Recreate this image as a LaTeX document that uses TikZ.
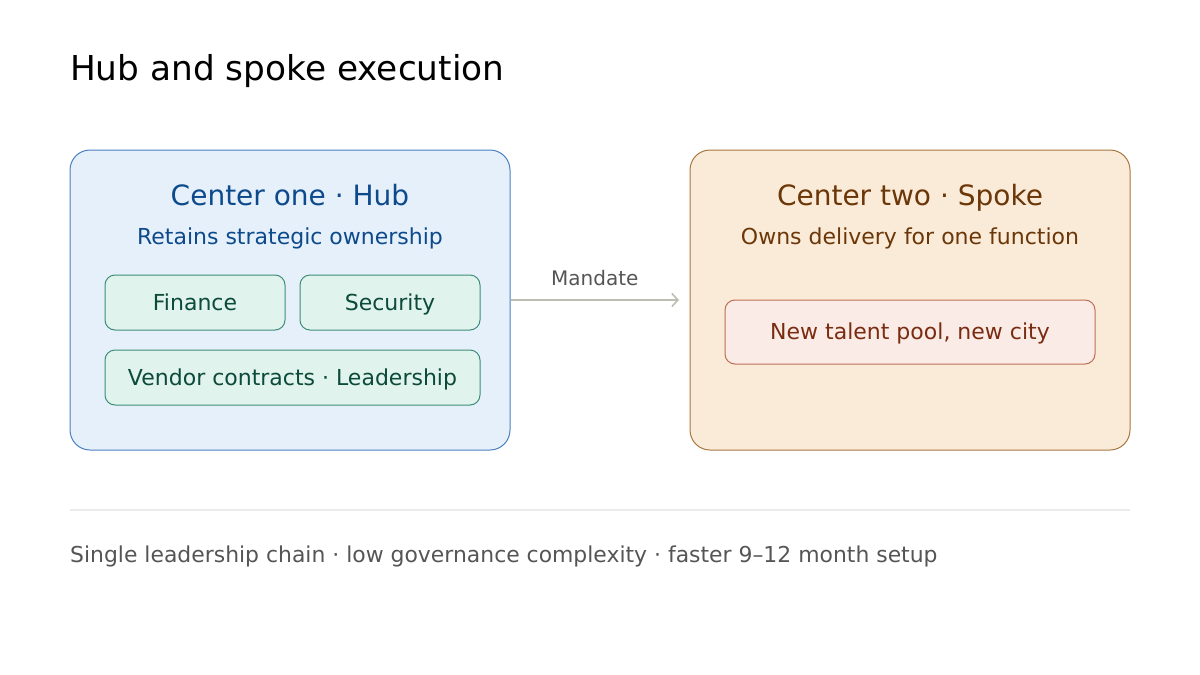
\documentclass[tikz,border=0pt]{standalone}
\usepackage{fontspec}
\setmainfont{DejaVu Sans}
\usetikzlibrary{arrows.meta}

\definecolor{hubfill}{HTML}{E6F0FA}
\definecolor{hubline}{HTML}{4A80C0}
\definecolor{hubtext}{HTML}{0D4A8C}
\definecolor{teamfill}{HTML}{E0F3EC}
\definecolor{teamline}{HTML}{3E8E78}
\definecolor{teamtext}{HTML}{0C4A3A}
\definecolor{spokefill}{HTML}{FAEBD8}
\definecolor{spokeline}{HTML}{A8763F}
\definecolor{spoketext}{HTML}{6B3608}
\definecolor{cityfill}{HTML}{FAEBE6}
\definecolor{cityline}{HTML}{BE6E55}
\definecolor{citytext}{HTML}{7A2C10}
\definecolor{flowgray}{HTML}{BDBFB2}
\definecolor{notegray}{HTML}{555555}
\definecolor{rulegray}{HTML}{EBEBEB}

\tikzset{
  centerbox/.style={draw, line width=1pt, rounded corners=20pt, inner sep=0pt,
    minimum width=440pt, minimum height=300pt},
  unitbox/.style={draw, line width=1pt, rounded corners=10pt, inner sep=0pt,
    text height=15pt, text depth=0pt, font=\fontsize{22}{26}\selectfont},
  headline/.style={anchor=base, font=\fontsize{28}{34}\selectfont},
  subline/.style={anchor=base, font=\fontsize{22}{26}\selectfont},
}

\begin{document}
\begin{tikzpicture}[x=1pt,y=-1pt]
  \useasboundingbox (0,0) rectangle (1200,675);

  \node[anchor=base west, inner sep=0pt, font=\fontsize{34.3}{40}\selectfont] (title) at (70,80) {Hub and spoke execution};

  % hub
  \node[centerbox, draw=hubline, fill=hubfill] (hub) at (290,300) {};
  \node[headline, text=hubtext] (hubname) at (290,205) {Center one · Hub};
  \node[subline, text=hubtext] (hubrole) at (290,244) {Retains strategic ownership};
  \node[unitbox, draw=teamline, fill=teamfill, text=teamtext, minimum width=180pt, minimum height=55pt] (finance) at (195,302.5) {Finance};
  \node[unitbox, draw=teamline, fill=teamfill, text=teamtext, minimum width=180pt, minimum height=55pt] (security) at (390,302.5) {Security};
  \node[unitbox, draw=teamline, fill=teamfill, text=teamtext, minimum width=375pt, minimum height=55pt] (vendor) at (292.5,377.5) {Vendor contracts · Leadership};

  % spoke
  \node[centerbox, draw=spokeline, fill=spokefill] (spoke) at (910,300) {};
  \node[headline, text=spoketext] (spokename) at (910,205) {Center two · Spoke};
  \node[subline, text=spoketext] (spokerole) at (910,244) {Owns delivery for one function};
  \node[unitbox, draw=cityline, fill=cityfill, text=citytext, minimum width=370pt, minimum height=64pt] (city) at (910,332) {New talent pool, new city};

  % mandate
  \coordinate (tip) at (679,300);
  \draw[flowgray, line width=1.6pt, -{Straight Barb[length=6pt,width=13pt]}] (hub.east) -- (tip)
    node[midway, above=10pt, text=notegray, font=\fontsize{20}{24}\selectfont] (mandate) {Mandate};

  % footer
  \coordinate (ruleA) at (70,510);
  \coordinate (ruleB) at (1130,510);
  \draw[rulegray, line width=1.5pt] (ruleA) -- (ruleB);
  \node[anchor=base west, inner sep=0pt, text=notegray, font=\fontsize{21.9}{26}\selectfont] (note) at (70,562)
    {Single leadership chain · low governance complexity · faster 9–12 month setup};
\end{tikzpicture}
\end{document}
